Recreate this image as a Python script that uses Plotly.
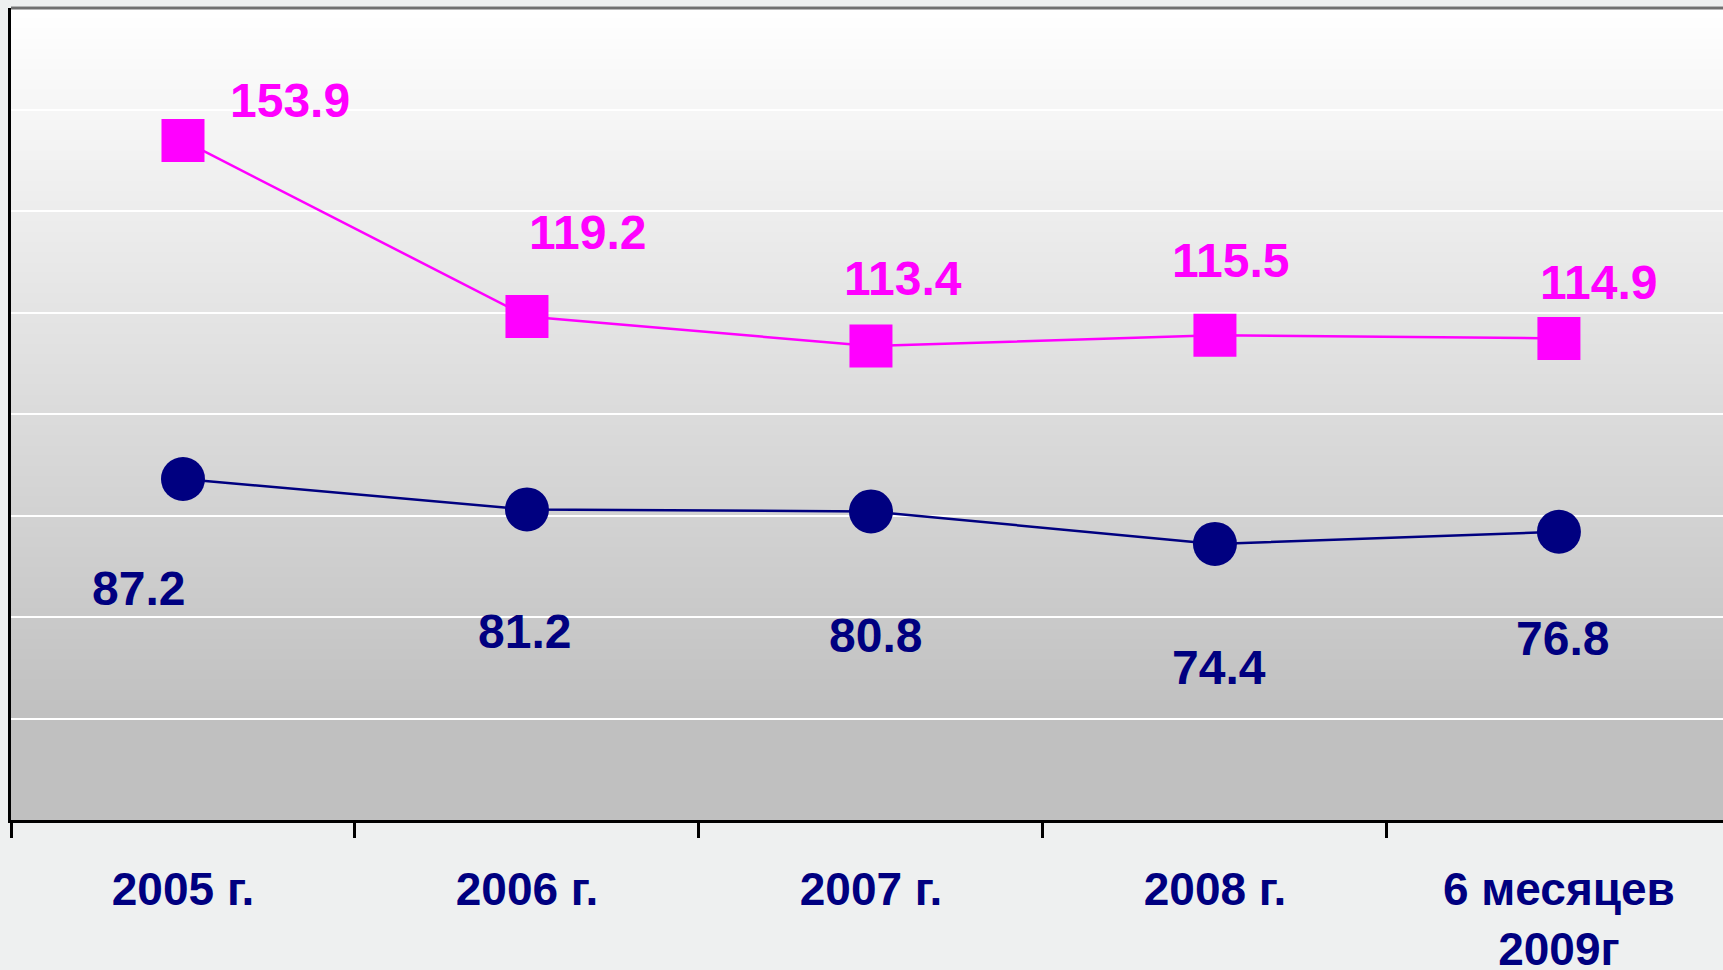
import plotly.graph_objects as go

# Data
categories = ["2005 г.", "2006 г.", "2007 г.", "2008 г.", "6 месяцев<br>2009г"]
series_top = [153.9, 119.2, 113.4, 115.5, 114.9]
series_bottom = [87.2, 81.2, 80.8, 74.4, 76.8]

# Styling
MAGENTA = "#ff00ff"
NAVY = "#000080"
FONT = "Liberation Sans, Arial, sans-serif"
PAGE_BG = "#eef0f0"

# manual label offsets in pixels (dx, dy up), as the labels were dragged by hand
top_offsets = [(107, 40), (61, 84), (32, 68), (16, 75), (40, 56)]
bottom_offsets = [(-44, -110), (-2, -122), (5, -124), (4, -124), (4, -107)]

fig = go.Figure()

fig.add_trace(go.Scatter(
    x=categories, y=series_top, mode="lines+markers",
    line=dict(color=MAGENTA, width=2.5),
    marker=dict(symbol="square", size=43, color=MAGENTA),
    showlegend=False, hoverinfo="skip",
))
fig.add_trace(go.Scatter(
    x=categories, y=series_bottom, mode="lines+markers",
    line=dict(color=NAVY, width=2.5),
    marker=dict(symbol="circle", size=44, color=NAVY),
    showlegend=False, hoverinfo="skip",
))

annotations = []
for cat, v, (dx, dy) in zip(categories, series_top, top_offsets):
    annotations.append(dict(x=cat, y=v, text=f"{v:.1f}", showarrow=False,
                            xshift=dx, yshift=dy, xanchor="center", yanchor="middle",
                            font=dict(family=FONT, size=48, color=MAGENTA, weight="bold")))
for cat, v, (dx, dy) in zip(categories, series_bottom, bottom_offsets):
    annotations.append(dict(x=cat, y=v, text=f"{v:.1f}", showarrow=False,
                            xshift=dx, yshift=dy, xanchor="center", yanchor="middle",
                            font=dict(family=FONT, size=48, color=NAVY, weight="bold")))

# vertical gradient background of the plot area: white on top, grey below
shapes = []
n_bands = 70
g_bottom = 0.123
shapes.append(dict(type="rect", xref="x domain", yref="y domain", x0=0, x1=1,
                   y0=0, y1=g_bottom, fillcolor="#c0c0c0", line=dict(width=0),
                   layer="below"))
for i in range(n_bands):
    y0 = g_bottom + (1 - g_bottom) * i / n_bands
    y1 = g_bottom + (1 - g_bottom) * (i + 1) / n_bands
    t = (i + 0.5) / n_bands
    c = round(192 + (255 - 192) * t)
    shapes.append(dict(type="rect", xref="x domain", yref="y domain", x0=0, x1=1,
                       y0=y0, y1=y1 + 0.002, fillcolor=f"rgb({c},{c},{c})",
                       line=dict(width=0), layer="below"))
# top border of the plot area
shapes.append(dict(type="line", xref="x domain", yref="y domain", x0=0, x1=1,
                   y0=1, y1=1, line=dict(color="#707070", width=3)))

fig.update_layout(
    width=1723, height=970,
    margin=dict(l=11, r=0, t=8, b=150),
    paper_bgcolor=PAGE_BG,
    plot_bgcolor="#c0c0c0",
    shapes=shapes,
    annotations=annotations,
    font=dict(family=FONT),
)

fig.update_xaxes(
    type="category", range=[-0.5, 4.477], automargin=False,
    showgrid=False, showline=True, linecolor="black", linewidth=3,
    ticks="outside", tickson="boundaries", ticklen=15, tickwidth=3, tickcolor="black",
    tickfont=dict(family=FONT, size=46, color=NAVY, weight="bold"),
    ticklabelstandoff=27,
)
fig.update_yaxes(
    range=[20, 180], dtick=20, automargin=False,
    showgrid=True, gridcolor="white", gridwidth=2,
    showticklabels=False, ticks="",
    showline=True, linecolor="black", linewidth=3,
    zeroline=False,
)

fig.write_html(
    "out.html",
    config={"displayModeBar": False},
    post_script=f"document.body.style.margin='0';document.body.style.background='{PAGE_BG}';",
)
